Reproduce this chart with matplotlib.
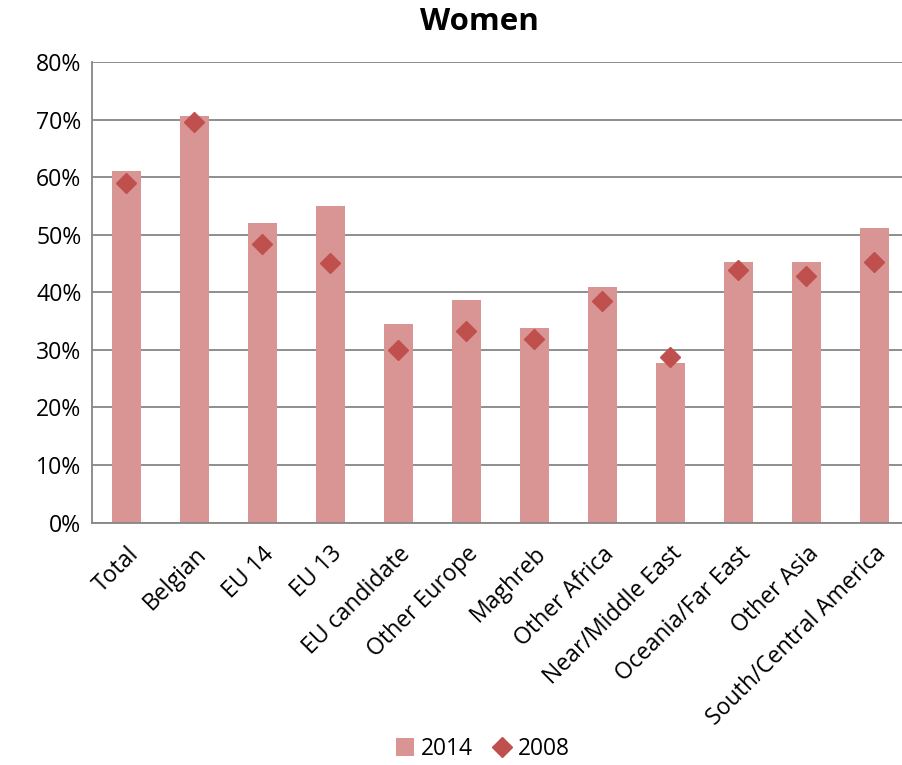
import matplotlib
matplotlib.use("Agg")
import matplotlib.pyplot as plt
from matplotlib.ticker import FuncFormatter, MultipleLocator
from matplotlib.lines import Line2D
from matplotlib.patches import Patch

categories = ["Total", "Belgian", "EU 14", "EU 13", "EU candidate", "Other Europe",
              "Maghreb", "Other Africa", "Near/Middle East", "Oceania/Far East",
              "Other Asia", "South/Central America"]
values_2014 = [61.1, 70.6, 52.0, 55.0, 34.4, 38.6, 33.8, 40.9, 27.7, 45.2, 45.3, 51.1]
values_2008 = [59.0, 69.6, 48.3, 45.0, 30.0, 33.2, 31.9, 38.5, 28.8, 43.9, 42.9, 45.2]

plt.rcParams['font.family'] = ['Open Sans', 'DejaVu Sans']

fig = plt.figure(figsize=(9.03, 7.65), dpi=100)
ax = fig.add_axes([92.5/903, 1-522.5/765, 816/903, (522.5-62)/765])

x = list(range(len(categories)))
bar_color = "#D99594"
mk_color = "#C0504D"
ax.bar(x, values_2014, width=0.42, color=bar_color, zorder=2)
ax.plot(x, values_2008, linestyle='none', marker='D', markersize=10,
        color=mk_color, zorder=3)

ax.set_xlim(-0.5, len(categories) - 0.5)
ax.set_ylim(0, 80)
ax.yaxis.set_major_locator(MultipleLocator(10))
ax.yaxis.set_major_formatter(FuncFormatter(lambda v, p: f"{v:.0f}%"))
ax.grid(axis='y', color='#868686', linewidth=1.3, zorder=0)
ax.set_axisbelow(True)
for s in ['top', 'right']:
    ax.spines[s].set_visible(False)
for s in ['left', 'bottom']:
    ax.spines[s].set_color('#868686')
    ax.spines[s].set_linewidth(1.3)
ax.tick_params(axis='both', length=0, labelsize=16.6, colors='black')
ax.tick_params(axis='y', pad=8)
ax.set_xticks(x)
ax.set_xticklabels(categories, rotation=45, ha='right', rotation_mode='anchor')
ax.tick_params(axis='x', pad=14)

fig.text(479/903, 1-22/765, "Women", ha='center', va='center', fontsize=22.5, fontweight='bold')

handles = [Patch(facecolor=bar_color, edgecolor='none'),
           Line2D([0], [0], linestyle='none', marker='D', markersize=10, color=mk_color)]
fig.legend(handles, ["2014", "2008"], loc='center', bbox_to_anchor=(483/903, 1-749/765),
           ncol=2, frameon=False, fontsize=16.4, handlelength=0.8, handletextpad=0.3,
           columnspacing=0.9, handleheight=0.8)

fig.savefig("out.png", dpi=100)
